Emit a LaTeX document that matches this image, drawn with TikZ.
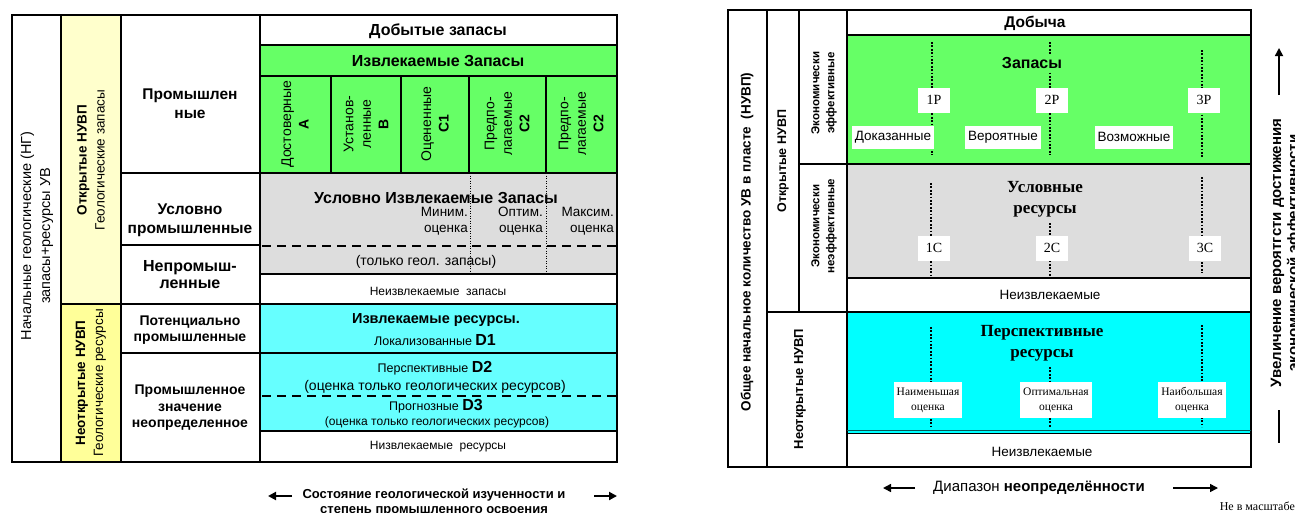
\documentclass[tikz,border=0pt]{standalone}
\usepackage{fontspec}
\setmainfont{Liberation Sans}
\newfontfamily\timesfont{Liberation Serif}
\usetikzlibrary{arrows.meta, positioning, calc}

\definecolor{resgreen}{RGB}{102,255,102}
\definecolor{resgray}{RGB}{221,221,221}
\definecolor{rescyan}{RGB}{102,255,255}
\definecolor{prospcyan}{RGB}{0,255,255}
\definecolor{paleyellow}{RGB}{255,255,204}
\definecolor{deepyellow}{RGB}{255,255,153}

\begin{document}
\begin{tikzpicture}[x=1pt, y=-1pt,
  thickline/.style={line width=2.6pt},
  ruleline/.style={line width=1.8pt},
  cutline/.style={line width=2.6pt, dash pattern=on 9pt off 6pt},
  dotgrid/.style={line width=0.8pt, dash pattern=on 1pt off 1.5pt},
  dotrule/.style={line width=2pt, dash pattern=on 1.8pt off 1.6pt},
  head/.style={font=\fontsize{16}{19}\selectfont\bfseries, align=center, inner sep=0pt},
  cat/.style={font=\fontsize{15.5}{19}\selectfont\bfseries, align=center, inner sep=0pt},
  catsm/.style={font=\fontsize{14}{16.5}\selectfont\bfseries, align=center, inner sep=0pt},
  vlabel/.style={rotate=90, font=\fontsize{14}{17.5}\selectfont, align=center, inner sep=0pt},
  note/.style={font=\fontsize{12.5}{16}\selectfont, align=center, inner sep=0pt},
  tiny/.style={font=\fontsize{12}{14}\selectfont, align=center, inner sep=0pt},
  rvert/.style={rotate=90, font=\fontsize{13.5}{16}\selectfont\bfseries, align=center, inner sep=0pt},
  tag/.style={fill=white, font=\timesfont\fontsize{14}{16}\selectfont, minimum width=32pt, minimum height=25pt, inner sep=0pt},
  wordtag/.style={fill=white, font=\fontsize{13.5}{16}\selectfont, minimum height=23pt, inner sep=3pt},
  esttag/.style={fill=white, font=\timesfont\fontsize{11.5}{15}\selectfont, align=center, minimum height=36pt, inner sep=3pt},
  serifhead/.style={font=\timesfont\fontsize{17}{21}\selectfont\bfseries, align=center, inner sep=0pt},
  arr/.style={-{Triangle[length=8pt, width=8pt]}, line width=2pt},
]
  \useasboundingbox (0,0) rectangle (1295,512);

  % ---------------- Left table: Russian classification ----------------
  \fill[paleyellow] (61,15) rectangle (121,304);
  \fill[deepyellow] (61,304) rectangle (121,462);
  \fill[resgreen] (260,45) rectangle (617,173);
  \fill[resgray] (260,173) rectangle (617,274);
  \fill[rescyan] (260,304) rectangle (617,431);

  % dotted estimate dividers
  \draw[dotgrid] (470,173) -- (470,274);
  \draw[dotgrid] (546,173) -- (546,274);

  % grid
  \draw[thickline] (12,15) rectangle (617,462);
  \draw[thickline] (61,15) -- (61,462);
  \draw[thickline] (121,15) -- (121,462);
  \draw[thickline] (260,15) -- (260,462);
  \draw[thickline] (260,45) -- (617,45);
  \draw[thickline] (260,76) -- (617,76);
  \draw[thickline] (121,173) -- (617,173);
  \draw[thickline] (121,245) -- (260,245);
  \draw[cutline] (262,246) -- (617,246);
  \draw[ruleline] (260,274) -- (617,274);
  \draw[thickline] (61,304) -- (617,304);
  \draw[thickline] (121,353) -- (617,353);
  \draw[cutline] (262,396) -- (617,396);
  \draw[thickline] (260,431) -- (617,431);
  \foreach \cx in {331,401,469,546}
    \draw[thickline] (\cx,76) -- (\cx,173);

  % side labels
  \node[vlabel, font=\fontsize{14.5}{19}\selectfont] (total) at (37,236) {Начальные геологические (НГ)\\запасы+ресурсы УВ};
  \node[vlabel, font=\fontsize{13.5}{18}\selectfont] (opened) at (91,160) {\textbf{Открытые НУВП}\\Геологические запасы};
  \node[vlabel, font=\fontsize{13.5}{18}\selectfont] (unopened) at (91,383) {\textbf{Неоткрытые НУВП}\\Геологические ресурсы};

  % categories
  \node[cat] (industrial) at (190,104) {Промышлен\\ные};
  \node[cat] (condind) at (190,220) {Условно\\промышленные};
  \node[cat, font=\fontsize{16}{17}\selectfont\bfseries] (nonind) at (190,275) {Непромыш-\\ленные};
  \node[catsm] (potind) at (190,330) {Потенциально\\промышленные};
  \node[catsm] (uncertain) at (190,408) {Промышленное\\значение\\неопределенное};

  % reserves
  \node[head] (produced) at (438,31) {Добытые запасы};
  \node[head] (recov) at (438,61) {Извлекаемые Запасы};
  \node[vlabel] (catA) at (295,124) {Достоверные\\\textbf{А}};
  \node[vlabel] (catB) at (366,124) {Установ-\\ленные\\\textbf{В}};
  \node[vlabel] (catC1) at (435,124) {Оцененные\\\textbf{С1}};
  \node[vlabel] (catC2a) at (507,124) {Предпо-\\лагаемые\\\textbf{С2}};
  \node[vlabel] (catC2b) at (581,124) {Предпо-\\лагаемые\\\textbf{С2}};

  \node[head] (condrecov) at (436,198) {Условно Извлекаемые Запасы};
  \node[note, font=\fontsize{13.5}{16}\selectfont, anchor=east, align=right] (estmin) at (468,221) {Миним.\\оценка};
  \node[note, font=\fontsize{13.5}{16}\selectfont, anchor=east, align=right] (estopt) at (543,221) {Оптим.\\оценка};
  \node[note, font=\fontsize{13.5}{16}\selectfont, anchor=east, align=right] (estmax) at (614,221) {Максим.\\оценка};
  \node[note, font=\fontsize{14}{16}\selectfont] (geolonly) at (426,262) {(только геол. запасы)};
  \node[tiny] (nonrecres) at (438,291) {Неизвлекаемые\ \ запасы};

  % resources
  \node[head, font=\fontsize{14.5}{17}\selectfont\bfseries] (recres) at (436,320) {Извлекаемые ресурсы.};
  \node[note] (catD1) at (435,340) {Локализованные \textbf{\fontsize{16}{18}\selectfont D1}};
  \node[note] (catD2) at (435,368) {Перспективные \textbf{\fontsize{16}{18}\selectfont D2}};
  \node[note, font=\fontsize{14}{16}\selectfont] (geoest1) at (435,387) {(оценка только геологических ресурсов)};
  \node[note] (catD3) at (436,406) {Прогнозные \textbf{\fontsize{16}{18}\selectfont D3}};
  \node[tiny] (geoest2) at (437,422) {(оценка только геологических ресурсов)};
  \node[tiny] (nonrecall) at (438,447) {Низвлекаемые\ \ ресурсы};

  % axis under the left table
  \node[note, font=\fontsize{13}{15}\selectfont\bfseries] (explor) at (434,503) {Состояние геологической изученности и\\степень промышленного освоения};
  \coordinate (explorL) at (268,496);
  \coordinate (explorR) at (617,496);
  \draw[arr] (292,496) -- (explorL);
  \draw[arr] (594,496) -- (explorR);

  % ---------------- Right table: PRMS ----------------
  \fill[resgreen] (847,35) rectangle (1251,164);
  \fill[resgray] (847,164) rectangle (1251,278);
  \fill[prospcyan] (847,312) rectangle (1251,433);

  % dotted uncertainty dividers
  \draw[dotrule] (932,42) -- (932,155);
  \draw[dotrule] (1050,42) -- (1050,155);
  \draw[dotrule] (1202,50) -- (1202,157);
  \draw[dotrule] (931,183) -- (931,275);
  \draw[dotrule] (1050,223) -- (1050,276);
  \draw[dotrule] (1202,177) -- (1202,273);
  \draw[dotrule] (931,327) -- (931,427);
  \draw[dotrule] (1050,367) -- (1050,427);
  \draw[dotrule] (1202,325) -- (1202,427);

  % grid
  \draw[ruleline] (728,10) rectangle (1251,467);
  \draw[ruleline] (767,10) -- (767,467);
  \draw[ruleline] (799,10) -- (799,312);
  \draw[ruleline] (847,10) -- (847,467);
  \draw[ruleline] (847,35) -- (1251,35);
  \draw[ruleline] (799,164) -- (1251,164);
  \draw[ruleline] (847,278) -- (1251,278);
  \draw[ruleline] (767,312) -- (1251,312);
  \draw[line width=1pt, teal!70!black] (847,430.5) -- (1251,430.5);
  \draw[ruleline] (847,433.5) -- (1251,433.5);

  % side labels
  \node[rvert] (totalinplace) at (747,242) {Общее начальное количество УВ в пласте\ \ (НУВП)};
  \node[rvert, font=\fontsize{12.5}{16}\selectfont\bfseries] (discovered) at (783,161) {Открытые НУВП};
  \node[rvert, font=\fontsize{11.5}{15}\selectfont\bfseries] (commercial) at (824,93) {Экономически\\эффективные};
  \node[rvert, font=\fontsize{11.5}{15}\selectfont\bfseries] (subcommercial) at (824,226) {Экономически\\неэффективные};
  \node[rvert, font=\fontsize{13}{16}\selectfont\bfseries] (undiscovered) at (800,389) {Неоткрытые НУВП};

  % production and reserves
  \node[head, font=\fontsize{15.5}{18}\selectfont\bfseries] (production) at (1035,23) {Добыча};
  \node[head, fill=resgreen, inner sep=2pt] (reserves) at (1032,63) {Запасы};
  \node[tag] (p1) at (934,100) {1P};
  \node[tag] (p2) at (1052,100) {2P};
  \node[tag] (p3) at (1204,100) {3P};
  \node[wordtag] (proved) at (893,137) {Доказанные};
  \node[wordtag] (probable) at (1003,137) {Вероятные};
  \node[wordtag] (possible) at (1134,137) {Возможные};

  % contingent resources
  \node[serifhead] (contingent) at (1045,199) {Условные\\ресурсы};
  \node[tag] (c1) at (934,248) {1C};
  \node[tag] (c2) at (1052,248) {2C};
  \node[tag] (c3) at (1205,248) {3C};
  \node[wordtag, fill=none] (unrec1) at (1050,295) {Неизвлекаемые};

  % prospective resources
  \node[serifhead] (prospective) at (1042,343) {Перспективные\\ресурсы};
  \node[esttag] (low) at (928,400) {Наименьшая\\оценка};
  \node[esttag] (best) at (1056,400) {Оптимальная\\оценка};
  \node[esttag] (high) at (1192,400) {Наибольшая\\оценка};
  \node[wordtag, fill=none] (unrec2) at (1042,452) {Неизвлекаемые};

  % axes around the right table
  \node[font=\fontsize{15}{18}\selectfont] (range) at (1039,488) {Диапазон \textbf{неопределённости}};
  \coordinate (rangeL) at (883,488);
  \coordinate (rangeR) at (1218,488);
  \draw[arr, line width=1.6pt] (915,488) -- (rangeL);
  \draw[arr, line width=1.6pt] (1173,488) -- (rangeR);
  \node[font=\timesfont\fontsize{12}{14}\selectfont, anchor=east, inner sep=0pt] (noscale) at (1295,506) {Не в масштабе};

  \node[rotate=90, font=\fontsize{15}{17}\selectfont\bfseries, align=center, inner sep=0pt] (chance) at (1286,253) {Увеличение вероятгсти достижения\\экономической эффективности};
  \coordinate (chanceTop) at (1279,48);
  \coordinate (chanceBot) at (1279,443);
  \draw[arr, line width=1.6pt] (1279,95) -- (chanceTop);
  \draw[line width=1.6pt] (1279,410) -- (chanceBot);
\end{tikzpicture}
\end{document}
